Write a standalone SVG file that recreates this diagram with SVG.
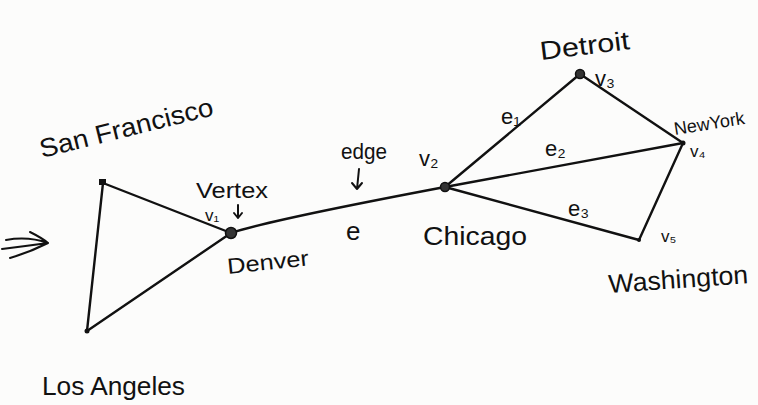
<svg xmlns="http://www.w3.org/2000/svg" width="758" height="405" viewBox="0 0 758 405">
  <style>
    .edge { fill: none; stroke: #111; stroke-width: 2.4; stroke-linecap: round; }
    .ink { fill: none; stroke: #111; stroke-width: 2; stroke-linecap: round; stroke-linejoin: round; }
    .dot { fill: #333; stroke: #111; stroke-width: 1.5; }
    text { font-family: "Liberation Sans", "DejaVu Sans", sans-serif; fill: #111; }
    .city { font-size: 26px; }
    .lbl { font-size: 22px; }
    .sm { font-size: 17px; }
  </style>
  <rect width="758" height="405" fill="#fcfcfb"/>

  <!-- edges -->
  <g id="connectors">
    <path class="edge" d="M103 183 L231 233"/>
    <path class="edge" d="M103 183 L87 331"/>
    <path class="edge" d="M87 331 L231 233"/>
    <path class="edge" d="M231 233 Q270 220 445 187"/>
    <path class="edge" d="M445 187 L580 74"/>
    <path class="edge" d="M445 187 L683 143"/>
    <path class="edge" d="M445 187 L639 240"/>
    <path class="edge" d="M580 74 L683 143"/>
    <path class="edge" d="M683 143 L639 240"/>
  </g>

  <!-- vertices -->
  <g id="san-francisco">
    <rect x="99" y="179" width="7" height="6" fill="#111"/>
    <text class="city" transform="translate(42 158) rotate(-14)" textLength="178" lengthAdjust="spacingAndGlyphs">San Francisco</text>
  </g>
  <g id="los-angeles">
    <circle cx="87" cy="331" r="2.5" fill="#111"/>
    <text class="city" x="42" y="395" textLength="143" lengthAdjust="spacingAndGlyphs">Los Angeles</text>
  </g>
  <g id="denver">
    <circle class="dot" cx="231" cy="233" r="5.5"/>
    <text class="lbl" x="196" y="198" textLength="72" lengthAdjust="spacingAndGlyphs">Vertex</text>
    <text class="sm" x="205" y="221">v₁</text>
    <path class="ink" d="M238 205 L238 218 M234 213 L238 218 L242 213"/>
    <text class="lbl" transform="translate(228 274) rotate(-6)" textLength="82" lengthAdjust="spacingAndGlyphs">Denver</text>
  </g>
  <g id="chicago">
    <circle class="dot" cx="445" cy="187" r="4.5"/>
    <text class="lbl" x="419" y="166">v₂</text>
    <text class="city" x="423" y="245" textLength="104" lengthAdjust="spacingAndGlyphs">Chicago</text>
  </g>
  <g id="detroit">
    <circle class="dot" cx="580" cy="74" r="4.5"/>
    <text class="city" transform="translate(541 60) rotate(-7)" textLength="90" lengthAdjust="spacingAndGlyphs">Detroit</text>
    <text class="lbl" x="595" y="86">v₃</text>
  </g>
  <g id="new-york">
    <circle cx="683" cy="143" r="2.5" fill="#111"/>
    <text transform="translate(675 135) rotate(-9)" font-size="18">NewYork</text>
    <text class="sm" x="690" y="157">v₄</text>
  </g>
  <g id="washington">
    <circle cx="639" cy="240" r="2" fill="#111"/>
    <text class="sm" x="661" y="242">v₅</text>
    <text class="city" transform="translate(609 293) rotate(-4)" textLength="140" lengthAdjust="spacingAndGlyphs">Washington</text>
  </g>

  <!-- edge labels -->
  <g id="edge-labels">
    <text class="lbl" x="341" y="159" textLength="46" lengthAdjust="spacingAndGlyphs">edge</text>
    <path class="ink" d="M359 169 L357 189 M352 183 L357 189 L362 183"/>
    <text class="city" x="346" y="240">e</text>
    <text class="lbl" x="501" y="124">e₁</text>
    <text class="lbl" x="545" y="156">e₂</text>
    <text class="lbl" x="568" y="216">e₃</text>
  </g>

  <!-- implication mark at the left edge -->
  <g id="implies">
    <path class="ink" d="M6 240 Q28 236 48 243 M2 249 Q26 246 48 243 M10 258 Q30 252 48 243 M30 232 Q42 238 48 243"/>
  </g>
</svg>
